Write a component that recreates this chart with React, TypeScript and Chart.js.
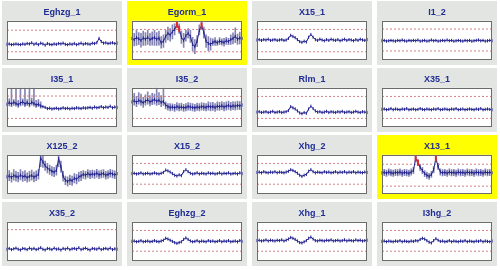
import React, { useEffect, useRef } from "react";
import { Chart, registerables } from "chart.js";
Chart.register(...registerables);

// ---- data (values in % of plot height) ----
const titles = ["Eghzg_1", "Egorm_1", "X15_1", "I1_2", "I35_1", "I35_2", "Rlm_1", "X35_1", "X125_2", "X15_2", "Xhg_2", "X13_1", "X35_2", "Eghzg_2", "Xhg_1", "I3hg_2"];
const highlighted = [false, true, false, false, false, false, false, false, false, false, false, true, false, false, false, false];
const uclValues: (number | null)[] = [76, 78, 78, 79, 79, 78, 78, 78, null, 78, 78, 76, 80, 78, 78, 78];
const lclValues: (number | null)[] = [21, 21, 21, 23, 22, 22, 22, 22, null, 25, 25, 20, null, 25, 25, 25];

const eghzg1 = [40,41,39,40,41,40,39,41,40,42, 41,44,40,42,39,43,41,38,42,40, 39,41,40,42,41,43,40,39,41,40, 42,39,41,43,40,42,41,40,43,42, 44,55,47,43,44,42,43,44,42,43];
const egorm1 = [55,52,57,54,50,56,53,58,52,55, 57,53,56,44,48,60,68,64,72,78, 90,80,58,50,62,68,60,40,34,48, 76,88,70,48,42,40,45,47,44,48, 46,45,49,47,52,55,60,53,56,55];
const egorm1Hi = [72,68,76,70,68,74,70,76,68,72, 76,70,74,60,64,76,84,80,90,92, 100,92,74,68,76,80,76,58,52,62, 90,100,84,64,60,56,54,57,51,57, 54,55,58,55,64,69,82,66,71,69];
const egorm1Lo = [38,36,37,39,33,37,37,40,37,38, 37,37,38,30,32,45,51,48,54,64, 82,68,42,32,48,56,45,24,16,34, 64,78,56,32,24,25,37,37,37,39, 38,35,40,39,40,41,44,40,41,41];
const x151 = [51,52,50,52,51,53,50,51,52,50, 51,52,50,51,55,63,60,57,52,47, 45,48,46,58,65,58,52,50,53,51, 49,52,50,53,51,50,52,49,51,53, 50,52,51,49,52,50,53,51,50,52];
const i12 = [49,50,48,49,50,49,48,50,49,51, 49,48,50,49,50,49,51,48,49,50, 48,49,51,49,50,48,49,50,49,51, 49,50,48,49,50,49,48,50,49,50, 48,49,50,51,49,50,48,49,50,49];
const i351 = [58,62,59,63,60,57,61,64,59,62, 58,63,60,56,58,54,52,50,47,48, 46,47,48,46,47,49,47,48,46,48, 47,49,48,47,49,48,49,50,48,51, 49,50,52,49,51,50,53,49,51,50];
const i351Hi = [100,72,100,70,100,68,100,72,100,70, 100,74,100,68,70,64,null,null,null,null, null,null,null,null,null,null,null,null,null,null, null,null,null,null,null,null,null,null,null,null, null,null,null,null,null,null,null,null,null,null];
const i351Lo = [52,54,52,55,53,50,54,56,52,55, 51,56,53,50,52,48,null,null,null,null, null,null,null,null,null,null,null,null,null,null, null,null,null,null,null,null,null,null,null,null, null,null,null,null,null,null,null,null,null,null];
const i352 = [64,67,63,68,65,62,66,69,64,67, 70,66,68,63,65,56,52,50,51,49, 52,50,51,49,50,52,51,50,49,51, 50,52,51,50,53,51,52,50,53,52, 54,51,53,55,52,54,53,55,54,56];
const i352Hi = [82,86,78,88,84,76,82,90,80,86, 84,100,88,80,100,64,60,60,59,58, 62,60,61,58,60,62,61,60,58,61, 60,62,61,60,64,62,63,60,64,63, 65,62,64,66,63,65,64,66,65,67];
const i352Lo = [54,56,52,58,55,50,56,58,54,57, 58,55,57,52,55,46,43,41,42,40, 43,41,42,40,41,43,42,41,40,42, 41,43,42,41,43,41,42,40,43,42, 44,41,43,45,42,44,43,45,44,46];
const rlm1 = [38,39,37,38,39,37,38,40,37,38, 39,37,38,39,42,52,49,46,41,36, 34,37,35,46,53,47,41,38,39,37, 38,40,37,39,38,37,39,38,40,37, 38,39,37,38,40,38,37,39,38,37];
const x351 = [45,46,44,45,47,44,46,45,44,46, 45,47,44,45,46,44,45,47,45,44, 46,45,44,46,45,47,44,45,46,45, 44,46,45,47,44,45,46,44,45,46, 45,44,46,45,47,44,45,46,45,44];
const x1252 = [44,46,42,47,45,43,48,44,46,42, 45,47,43,46,50,92,82,72,66,62, 58,56,60,90,70,45,35,32,36,34, 40,38,44,46,50,48,52,49,51,50, 53,49,51,52,48,50,53,51,49,52];
const x1252Hi = [56,60,54,62,58,55,62,57,60,54, 58,61,56,59,62,100,96,84,78,74, 70,68,74,100,84,58,46,44,48,46, 52,50,56,58,60,58,62,60,61,60, 63,59,61,62,58,60,63,61,59,62];
const x1252Lo = [32,34,30,35,33,31,36,32,34,30, 33,35,31,34,38,70,68,60,54,50, 46,44,48,70,56,33,24,20,24,22, 28,26,32,34,40,38,42,39,41,40, 43,39,41,42,38,40,43,41,39,42];
const x152 = [52,53,51,52,54,51,52,53,51,52, 54,52,51,53,55,61,59,56,52,48, 46,49,47,57,62,57,53,51,52,54, 51,53,52,51,54,52,53,51,52,54, 51,53,52,54,51,52,53,51,54,52];
const xhg2 = [55,56,54,57,55,54,56,55,57,54, 56,55,54,56,58,62,60,57,53,48, 45,48,50,58,62,57,54,56,55,54, 57,55,56,54,55,57,54,56,55,57, 54,56,55,57,54,56,55,54,56,55];
const x131 = [54,55,53,56,54,53,55,54,56,53, 55,54,53,56,60,91,80,68,60,52, 48,45,50,62,91,70,56,54,55,53, 56,54,55,53,56,54,55,53,56,54, 55,53,56,54,55,53,56,54,55,54];
const x131Hi = [62,63,61,64,62,61,63,62,64,61, 63,62,61,64,68,95,88,76,68,60, 56,53,58,70,95,78,64,62,63,61, 64,62,63,61,64,62,63,61,64,62, 63,61,64,62,63,61,64,62,63,62];
const x131Lo = [46,47,45,48,46,45,47,46,48,45, 47,46,45,48,52,82,72,60,52,44, 40,37,42,54,82,62,48,46,47,45, 48,46,47,45,48,46,47,45,48,46, 47,45,48,46,47,45,48,46,47,46];
const x352 = [30,32,29,31,33,30,28,32,31,29, 33,30,32,29,31,34,30,28,32,31, 29,33,30,31,28,32,30,33,29,31, 32,30,34,29,31,33,30,28,32,31, 30,33,29,31,32,30,33,29,31,30];
const eghzg2 = [50,51,49,50,52,49,50,51,49,50, 52,50,49,51,53,58,56,53,50,47, 45,47,49,55,59,55,51,49,50,52, 49,51,50,49,52,50,51,49,50,52, 49,51,50,52,49,50,51,49,52,50];
const xhg1 = [52,53,51,52,54,51,53,52,51,53, 52,54,51,53,56,60,58,55,51,47, 46,49,52,58,61,56,52,51,53,52, 51,53,52,54,51,52,53,51,52,54, 51,53,52,51,54,52,53,51,52,53];
const i3hg2 = [50,51,49,51,50,49,51,50,52,49, 51,50,49,51,50,52,51,55,58,56, 52,48,46,52,57,53,50,51,49,50, 52,49,51,50,49,51,50,52,49,51, 50,49,51,50,52,49,51,50,49,51];

const means = [eghzg1, egorm1, x151, i12, i351, i352, rlm1, x351, x1252, x152, xhg2, x131, x352, eghzg2, xhg1, i3hg2];
const highs: ((number | null)[] | null)[] = [null, egorm1Hi, null, null, i351Hi, i352Hi, null, null, x1252Hi, null, null, x131Hi, null, null, null, null];
const lows: ((number | null)[] | null)[] = [null, egorm1Lo, null, null, i351Lo, i352Lo, null, null, x1252Lo, null, null, x131Lo, null, null, null, null];

const LINE = "#23238f";
const RANGE = "#8585b5";
const LIMIT = "#d27b7b";
const OUT = "#e02828";

const boxPlugin = {
  id: "box",
  beforeDatasetsDraw(chart: any) {
    const { ctx, chartArea: a } = chart;
    ctx.save();
    ctx.fillStyle = "#ffffff";
    ctx.fillRect(a.left, a.top, a.right - a.left, a.bottom - a.top);
    ctx.restore();
  },
  afterDraw(chart: any) {
    const { ctx, chartArea: a } = chart;
    ctx.save();
    ctx.strokeStyle = "#6b6b6b";
    ctx.lineWidth = 1;
    ctx.strokeRect(Math.round(a.left) + 0.5, Math.round(a.top) + 0.5, Math.round(a.right - a.left) - 1, Math.round(a.bottom - a.top) - 1);
    ctx.restore();
  },
};

function Panel({ i }: { i: number }) {
  const ref = useRef<HTMLCanvasElement>(null);
  useEffect(() => {
    const mean = means[i];
    const labels = mean.map((_, k) => String(k + 1));
    const u = uclValues[i];
    const l = lclValues[i];
    const datasets: any[] = [];
    const hi = highs[i];
    const lo = lows[i];
    if (hi && lo) {
      datasets.push({
        type: "bar",
        data: hi.map((h, k) => (h == null || lo[k] == null ? null : [lo[k], h])),
        backgroundColor: RANGE,
        barThickness: 1,
        order: 3,
      });
    }
    if (u != null) {
      datasets.push({ type: "line", data: labels.map(() => u), borderColor: LIMIT, borderDash: [2, 2], borderWidth: 1, pointRadius: 0, order: 2 });
    }
    if (l != null) {
      datasets.push({ type: "line", data: labels.map(() => l), borderColor: LIMIT, borderDash: [2, 2], borderWidth: 1, pointRadius: 0, order: 2 });
    }
    datasets.push({
      type: "line",
      data: mean,
      borderColor: LINE,
      borderWidth: 1,
      pointStyle: "line",
      rotation: 90,
      pointRadius: (c: any) => (u != null && c.raw > u ? 3 : 1.6),
      pointBorderWidth: (c: any) => (u != null && c.raw > u ? 2 : 1),
      pointBorderColor: (c: any) => (u != null && c.raw > u ? OUT : LINE),
      order: 1,
    });
    const chart = new Chart(ref.current as HTMLCanvasElement, {
      type: "line",
      data: { labels, datasets },
      options: {
        animation: false,
        responsive: false,
        devicePixelRatio: 1,
        layout: { padding: { left: 5, right: 5, top: 1, bottom: 4 } },
        plugins: {
          legend: { display: false },
          tooltip: { enabled: false },
          title: {
            display: true,
            text: titles[i],
            color: "#1f2d95",
            font: { size: 9, weight: "bold", family: "'Liberation Sans', Arial, sans-serif" },
            padding: { top: 5, bottom: 3 },
          },
        },
        scales: {
          x: { display: false, offset: false },
          y: { display: false, min: 0, max: 100 },
        },
      } as any,
      plugins: [boxPlugin],
    });
    return () => chart.destroy();
  }, [i]);
  const col = i % 4;
  const row = Math.floor(i / 4);
  return (
    <div
      style={{
        position: "absolute",
        left: 2 + col * 125,
        top: 1 + row * 67,
        width: 120,
        height: 64,
        background: highlighted[i] ? "#ffff00" : "#e3e5e3",
      }}
    >
      <canvas ref={ref} width={120} height={64} style={{ width: 120, height: 64, display: "block" }} />
    </div>
  );
}

export default function App() {
  return (
    <div style={{ position: "fixed", left: 0, top: 0, width: 500, height: 270, background: "#ffffff", overflow: "hidden" }}>
      {titles.map((_, i) => (
        <Panel key={i} i={i} />
      ))}
    </div>
  );
}
